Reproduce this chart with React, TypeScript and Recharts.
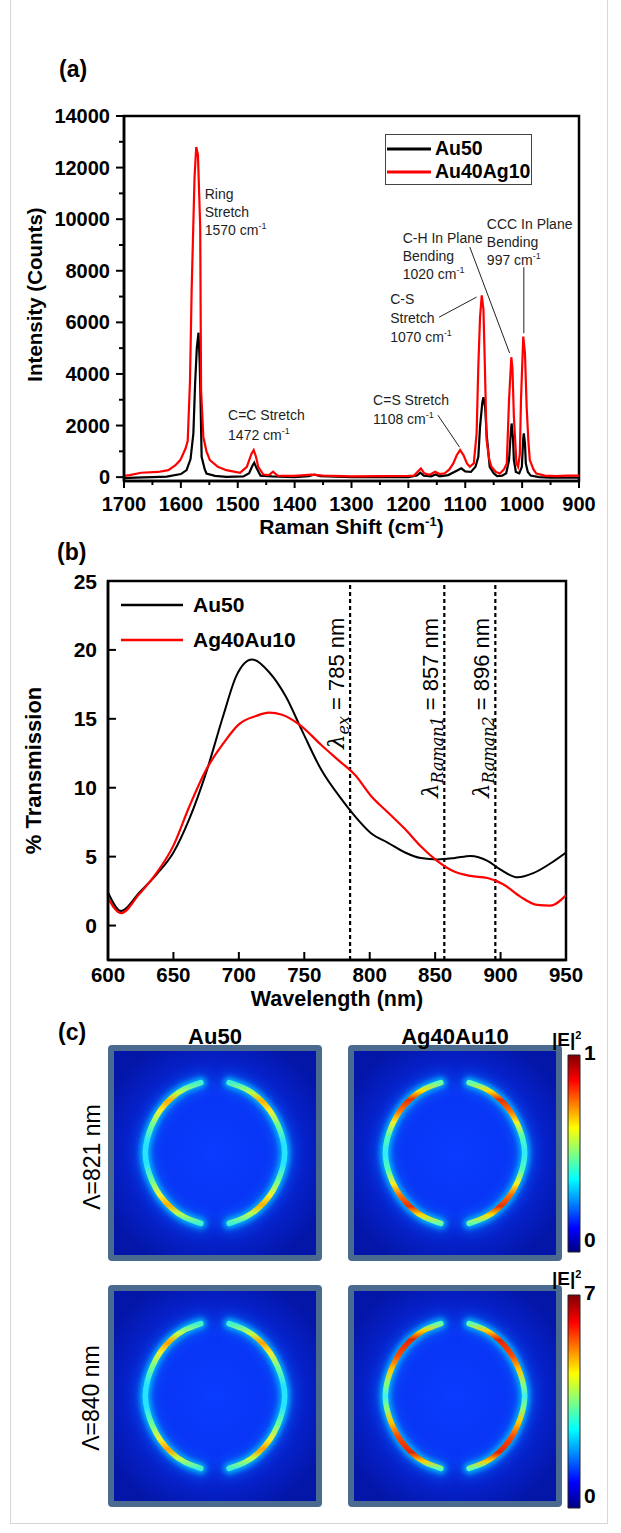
import React from 'react'
import {
  ComposedChart,
  LineChart,
  BarChart,
  Bar,
  Line,
  XAxis,
  YAxis,
  ReferenceLine,
  ReferenceDot,
  ReferenceArea,
  Legend,
} from 'recharts'

const FONT = "'Liberation Sans', Arial, Helvetica, sans-serif"
const MATH = "'DejaVu Serif', 'Liberation Serif', serif"

// ---------- (a) SERS spectra: Raman shift (cm-1) vs intensity (counts)
const au50Shift = [1700, 1680, 1650, 1625, 1600, 1590, 1583, 1578, 1575, 1572, 1569, 1567, 1566, 1563.5, 1558, 1555, 1540, 1520, 1490, 1480, 1474, 1471, 1467, 1460, 1440, 1400, 1375, 1365, 1355, 1300, 1250, 1200, 1185, 1179, 1173, 1160, 1152, 1145, 1130, 1115, 1107, 1100, 1090, 1082, 1077, 1074, 1070, 1068, 1065, 1062.5, 1057, 1050, 1044, 1035, 1028, 1023, 1020, 1018.5, 1016, 1014.5, 1011, 1005, 1000.5, 998, 997, 995, 993.5, 990, 985, 970, 950, 900]
const au50Counts = [-40, -20, 0, 20, 120, 270, 700, 1700, 3600, 5000, 5600, 4500, 3600, 790, 300, 140, 50, 10, 30, 150, 450, 560, 350, 60, 30, 0, 40, 100, 40, 0, 0, 0, 60, 170, 60, 30, 100, 30, 80, 250, 340, 220, 200, 400, 790, 1950, 2900, 3100, 2700, 1690, 400, 150, 40, 60, 150, 660, 1700, 2080, 1500, 660, 200, 150, 400, 1500, 1700, 1300, 530, 200, 60, 0, -20, -20]

const au40ag10Shift = [1700, 1690, 1670, 1640, 1622, 1610, 1601, 1592, 1588, 1584, 1581, 1576, 1573, 1570, 1566, 1564.5, 1560.5, 1555, 1549, 1535, 1520, 1496, 1484, 1476, 1472, 1468, 1464, 1455, 1445, 1438, 1430, 1400, 1370, 1350, 1300, 1250, 1200, 1190, 1182, 1178, 1172, 1165, 1160, 1153, 1145, 1136, 1128, 1121, 1115, 1109, 1103, 1097, 1092, 1085, 1080, 1077, 1074, 1071, 1068, 1065.5, 1062.5, 1058, 1054, 1046, 1039, 1032, 1027, 1023, 1019, 1017, 1014.5, 1010, 1007, 1004, 1002, 998, 995, 992, 989, 986.5, 980, 975, 960, 940, 920, 900]
const au40ag10Counts = [50, 80, 170, 200, 270, 450, 660, 1100, 1400, 3700, 7300, 11600, 12800, 12500, 9700, 3400, 1560, 1000, 660, 400, 270, 170, 400, 900, 1050, 800, 400, 100, 80, 210, 60, 50, 100, 60, 30, 40, 50, 60, 250, 340, 150, 100, 120, 210, 120, 150, 300, 530, 850, 1050, 850, 530, 400, 530, 1700, 4300, 6200, 7050, 6500, 4300, 1450, 700, 400, 200, 140, 300, 530, 3000, 4650, 4200, 2350, 530, 400, 900, 3000, 5450, 4800, 2700, 1400, 660, 300, 140, 60, 40, 60, 60]

const shiftTicks = [900, 950, 1000, 1050, 1100, 1150, 1200, 1250, 1300, 1350, 1400, 1450, 1500, 1550, 1600, 1650, 1700]
const countTicks = [0, 1000, 2000, 3000, 4000, 5000, 6000, 7000, 8000, 9000, 10000, 11000, 12000, 13000, 14000]
const ramanNames = ['Au50', 'Au40Ag10']

// peak assignments: anchor = start of first text line (data coords)
const ramanNotes = [
  { shift: 1558, counts: 10800, gap: 18, lines: ['Ring', 'Stretch', '1570 cm-1'] },
  { shift: 1517, counts: 2210, gap: 20, lines: ['C=C  Stretch', '1472 cm-1'] },
  { shift: 1262, counts: 2790, gap: 19, lines: ['C=S Stretch', '1108 cm-1'] },
  { shift: 1232, counts: 6710, gap: 19, lines: ['C-S', 'Stretch', '1070 cm-1'] },
  { shift: 1210, counts: 9070, gap: 18, lines: ['C-H In Plane', 'Bending', '1020 cm-1'] },
  { shift: 1062, counts: 9620, gap: 18, lines: ['CCC In Plane', 'Bending', '997 cm-1'] },
]
const ramanPointers = [
  [{ x: 1146, y: 6200 }, { x: 1080, y: 6980 }],
  [{ x: 1092, y: 8920 }, { x: 1022, y: 4810 }],
  [{ x: 997, y: 8140 }, { x: 997, y: 5580 }],
  [{ x: 1148, y: 2400 }, { x: 1110, y: 1160 }],
]

// ---------- (b) transmission spectra
const au50Nm = [600, 610, 624, 637, 650, 662, 675, 688, 698, 710, 723, 736, 748, 763, 779, 789, 801, 814, 827, 839, 852, 865, 877, 890, 900, 913, 925, 938, 950]
const au50Trans = [2.4, 1.05, 2.4, 3.7, 5.3, 7.7, 11.1, 15.2, 18.1, 19.3, 18.4, 16.6, 14.2, 11.3, 9.1, 7.9, 6.7, 6.0, 5.3, 4.9, 4.8, 4.9, 5.05, 4.7, 4.05, 3.5, 3.8, 4.5, 5.3]
const ag40au10Nm = [600, 610, 624, 637, 650, 662, 675, 688, 700, 713, 723, 733, 746, 763, 776, 789, 801, 814, 827, 839, 852, 865, 877, 890, 902, 915, 928, 938, 950]
const ag40au10Trans = [2.0, 0.9, 2.3, 3.8, 5.8, 8.6, 11.3, 13.2, 14.6, 15.2, 15.45, 15.3, 14.6, 13.1, 12.0, 10.9, 9.4, 8.2, 7.0, 5.75, 4.66, 3.9, 3.6, 3.45, 3.0, 2.1, 1.5, 1.45, 2.2]
const nmTicks = [600, 650, 700, 750, 800, 850, 900, 950]
const transTicks = [0, 5, 10, 15, 20, 25]
const transNames = ['Au50', 'Ag40Au10']
const lambdaMarks = [
  { nm: 785, sub: 'ex', center: 0.27 },
  { nm: 857, sub: 'Raman1', center: 0.335 },
  { nm: 896, sub: 'Raman2', center: 0.335 },
]

// ---------- (c) near-field maps, normalised coordinates of the two hot arcs
const leftArcX = [-0.14, -0.3, -0.43, -0.54, -0.62, -0.67, -0.69, -0.67, -0.62, -0.54, -0.43, -0.3, -0.14]
const rightArcX = [0.14, 0.3, 0.43, 0.54, 0.62, 0.67, 0.69, 0.67, 0.62, 0.54, 0.43, 0.3, 0.14]
const arcY = [0.69, 0.63, 0.54, 0.42, 0.28, 0.14, 0, -0.14, -0.28, -0.42, -0.54, -0.63, -0.69]

// colour along each arc, top tip -> bottom tip
const au50Arc821: [number, string][] = [[0, '#40f0d0'], [0.07, '#b8ff50'], [0.13, '#ffb000'], [0.2, '#f4f030'], [0.3, '#70ff90'], [0.42, '#28e4ff'], [0.58, '#28e4ff'], [0.7, '#70ff90'], [0.8, '#f4f030'], [0.87, '#ffb000'], [0.93, '#b8ff50'], [1, '#40f0d0']]
const ag40Arc821: [number, string][] = [[0, '#60ffb0'], [0.06, '#ffe000'], [0.12, '#e83000'], [0.2, '#ff7000'], [0.28, '#f8f020'], [0.38, '#50ffb0'], [0.5, '#30e8ff'], [0.62, '#50ffb0'], [0.72, '#f8f020'], [0.8, '#ff7000'], [0.88, '#e83000'], [0.94, '#ffe000'], [1, '#60ffb0']]
const au50Arc840: [number, string][] = [[0, '#40f0d0'], [0.07, '#c0ff48'], [0.13, '#ffa000'], [0.2, '#f0f030'], [0.3, '#70ff90'], [0.42, '#28e4ff'], [0.58, '#28e4ff'], [0.7, '#70ff90'], [0.8, '#f0f030'], [0.87, '#ffa000'], [0.93, '#c0ff48'], [1, '#40f0d0']]
const ag40Arc840: [number, string][] = [[0, '#60ffb0'], [0.05, '#ffd000'], [0.11, '#e02800'], [0.22, '#ff4800'], [0.32, '#ffc800'], [0.42, '#80ff80'], [0.5, '#40f0f0'], [0.58, '#80ff80'], [0.68, '#ffc800'], [0.78, '#ff4800'], [0.89, '#e02800'], [0.95, '#ffd000'], [1, '#60ffb0']]

const jetStops: [number, string][] = [[0, '#00007f'], [0.12, '#0000ff'], [0.37, '#00ffff'], [0.5, '#80ff80'], [0.63, '#ffff00'], [0.87, '#ff0000'], [1, '#7f0000']]

const zip = <A extends string, B extends string>(ka: A, kb: B, a: number[], b: number[]) =>
  a.map((v, i) => ({ [ka]: v, [kb]: b[i] }) as Record<A | B, number>)

const au50Raman = zip('shift', 'counts', au50Shift, au50Counts)
const au40ag10Raman = zip('shift', 'counts', au40ag10Shift, au40ag10Counts)
const au50Spectrum = zip('nm', 'pct', au50Nm, au50Trans)
const ag40au10Spectrum = zip('nm', 'pct', ag40au10Nm, ag40au10Trans)
const leftArc = zip('x', 'y', leftArcX, arcY)
const rightArc = zip('x', 'y', rightArcX, arcY)

const boldText = { fontFamily: FONT, fontWeight: 'bold' as const, fill: '#000' }

const ordered = (payload: any[] = [], names: string[]) =>
  [...payload].sort((a, b) => names.indexOf(a.value) - names.indexOf(b.value))

// ---------------- (a)
const RamanXTick = ({ x, y, payload }: any) => {
  const major = payload.value % 100 === 0
  return (
    <g>
      <line x1={x} x2={x} y1={y} y2={y + (major ? 7 : 4)} stroke="#000" strokeWidth={2} />
      {major && (
        <text x={x} y={y + 30} textAnchor="middle" fontSize={20} {...boldText}>
          {payload.value}
        </text>
      )}
    </g>
  )
}

const CountTick = ({ x, y, payload }: any) => {
  const major = payload.value % 2000 === 0
  return (
    <g>
      <line x1={x - (major ? 8 : 5)} x2={x} y1={y} y2={y} stroke="#000" strokeWidth={2} />
      {major && (
        <text x={x - 14} y={y + 7} textAnchor="end" fontSize={20} {...boldText}>
          {payload.value}
        </text>
      )}
    </g>
  )
}

const noteText = (lines: string[], gap: number) => (props: any) => {
  const { x, y } = props.viewBox
  return (
    <text x={x} y={y} fontFamily={FONT} fontSize={14} fill="#1e1e1e">
      {lines.map((line, i) => {
        const wn = line.endsWith('cm-1')
        return (
          <tspan key={i} x={x} y={y + i * gap}>
            {wn ? line.slice(0, -2) : line}
            {wn && (
              <tspan dy={-6} fontSize={9}>
                -1
              </tspan>
            )}
          </tspan>
        )
      })}
    </text>
  )
}

const RamanLegend = ({ payload }: any) => (
  <div style={{ width: 147, height: 51, boxSizing: 'border-box', border: '1.5px solid #444', background: '#fff', paddingTop: 2 }}>
    {ordered(payload, ramanNames).map((p: any) => (
      <div key={p.value} style={{ display: 'flex', alignItems: 'center', height: 23 }}>
        <svg width={48} height={6} style={{ marginLeft: 1 }}>
          <line x1={0} x2={44} y1={3} y2={3} stroke={p.color} strokeWidth={3} />
        </svg>
        <span style={{ fontFamily: FONT, fontWeight: 'bold', fontSize: 19.5, lineHeight: 1, color: '#000' }}>{p.value}</span>
      </div>
    ))}
  </div>
)

function RamanChart() {
  return (
    <LineChart width={621} height={560} margin={{ top: 116, right: 42, bottom: 19, left: 0 }}>
      <XAxis
        type="number"
        dataKey="shift"
        domain={[900, 1700]}
        reversed
        ticks={shiftTicks}
        interval={0}
        height={60}
        tickSize={0}
        tickMargin={0}
        tickLine={false}
        axisLine={{ stroke: '#000', strokeWidth: 2.5 }}
        tick={<RamanXTick />}
        allowDataOverflow
        label={(p: any) => (
          <text x={p.viewBox.x + p.viewBox.width / 2} y={p.viewBox.y + 53} textAnchor="middle" fontSize={21} {...boldText}>
            Raman Shift (cm
            <tspan dy={-8} fontSize={13}>
              -1
            </tspan>
            <tspan dy={8}>)</tspan>
          </text>
        )}
      />
      <YAxis
        type="number"
        domain={[-150, 14000]}
        ticks={countTicks}
        interval={0}
        width={124}
        tickSize={0}
        tickMargin={0}
        tickLine={false}
        axisLine={{ stroke: '#000', strokeWidth: 2.5 }}
        tick={<CountTick />}
        allowDataOverflow
        label={(p: any) => {
          const cx = 42
          const cy = p.viewBox.y + p.viewBox.height / 2 - 4
          return (
            <text x={cx} y={cy} transform={`rotate(-90 ${cx} ${cy})`} textAnchor="middle" fontSize={20.5} {...boldText}>
              Intensity (Counts)
            </text>
          )
        }}
      />
      <ReferenceArea x1={900} x2={1700} y1={-150} y2={14000} fill="none" stroke="#000" strokeWidth={2.5} ifOverflow="visible" />
      <Legend
        layout="vertical"
        align="center"
        verticalAlign="middle"
        content={<RamanLegend />}
        wrapperStyle={{ left: 385, top: 134, width: 147, height: 51 }}
      />
      <Line data={au50Raman} dataKey="counts" name="Au50" type="linear" stroke="#000" strokeWidth={2.2} dot={false} activeDot={false} isAnimationActive={false} />
      <Line data={au40ag10Raman} dataKey="counts" name="Au40Ag10" type="linear" stroke="#ff0000" strokeWidth={2.2} dot={false} activeDot={false} isAnimationActive={false} />
      {ramanPointers.map((seg, i) => (
        <ReferenceLine key={`ptr-${i}`} segment={seg} stroke="#222" strokeWidth={1} />
      ))}
      {ramanNotes.map((n, i) => (
        <ReferenceDot key={`note-${i}`} x={n.shift} y={n.counts} r={0} fill="none" stroke="none" label={noteText(n.lines, n.gap)} />
      ))}
    </LineChart>
  )
}

// ---------------- (b)
const NmTick = ({ x, y, payload }: any) => (
  <g>
    <line x1={x} x2={x} y1={y} y2={y - 8} stroke="#000" strokeWidth={2} />
    <text x={x} y={y + 22} textAnchor="middle" fontSize={20.5} {...boldText}>
      {payload.value}
    </text>
  </g>
)

const TransTick = ({ x, y, payload }: any) => (
  <g>
    <line x1={x} x2={x + 8} y1={y} y2={y} stroke="#000" strokeWidth={2} />
    <text x={x - 11} y={y + 7.5} textAnchor="end" fontSize={21} {...boldText}>
      {payload.value}
    </text>
  </g>
)

const lambdaLabel = (sub: string, nm: number, center: number) => (props: any) => {
  const { x, y, height } = props.viewBox
  const bx = x - 6
  const cy = y + height * center
  return (
    <text x={bx} y={cy} transform={`rotate(-90 ${bx} ${cy})`} textAnchor="middle" fontSize={22} fontFamily={FONT} fill="#000">
      <tspan fontFamily={MATH} fontStyle="italic" fontSize={23}>
        λ
      </tspan>
      <tspan fontFamily={MATH} fontStyle="italic" fontSize={16} dy={5}>
        {sub}
      </tspan>
      <tspan dy={-5}>{` = ${nm} nm`}</tspan>
    </text>
  )
}

const TransLegend = ({ payload }: any) => (
  <div>
    {ordered(payload, transNames).map((p: any) => (
      <div key={p.value} style={{ display: 'flex', alignItems: 'center', height: 35 }}>
        <svg width={72} height={6}>
          <line x1={0} x2={62} y1={3} y2={3} stroke={p.color} strokeWidth={2.5} />
        </svg>
        <span style={{ fontFamily: FONT, fontWeight: 'bold', fontSize: 21, lineHeight: 1, color: '#000' }}>{p.value}</span>
      </div>
    ))}
  </div>
)

function TransmissionChart() {
  return (
    <LineChart width={621} height={480} margin={{ top: 41, right: 55, bottom: 5, left: 0 }}>
      <XAxis
        type="number"
        dataKey="nm"
        domain={[600, 950]}
        ticks={nmTicks}
        interval={0}
        height={55}
        tickSize={0}
        tickMargin={0}
        tickLine={false}
        axisLine={{ stroke: '#000', strokeWidth: 2.5 }}
        tick={<NmTick />}
        allowDataOverflow
        label={(p: any) => (
          <text x={p.viewBox.x + p.viewBox.width / 2} y={p.viewBox.y + 46} textAnchor="middle" fontSize={21.5} {...boldText}>
            Wavelength (nm)
          </text>
        )}
      />
      <YAxis
        type="number"
        domain={[-2.5, 25]}
        ticks={transTicks}
        interval={0}
        width={108}
        tickSize={0}
        tickMargin={0}
        tickLine={false}
        axisLine={{ stroke: '#000', strokeWidth: 2.5 }}
        tick={<TransTick />}
        allowDataOverflow
        label={(p: any) => {
          const cx = 41
          const cy = p.viewBox.y + p.viewBox.height / 2
          return (
            <text x={cx} y={cy} transform={`rotate(-90 ${cx} ${cy})`} textAnchor="middle" fontSize={22} {...boldText}>
              % Transmission
            </text>
          )
        }}
      />
      <ReferenceArea x1={600} x2={950} y1={-2.5} y2={25} fill="none" stroke="#000" strokeWidth={2.5} ifOverflow="visible" />
      <Legend
        layout="vertical"
        align="center"
        verticalAlign="middle"
        content={<TransLegend />}
        wrapperStyle={{ left: 121, top: 47, width: 200, height: 70 }}
      />
      {lambdaMarks.map((m) => (
        <ReferenceLine key={m.nm} x={m.nm} stroke="#000" strokeWidth={2.2} strokeDasharray="4 3" label={lambdaLabel(m.sub, m.nm, m.center)} />
      ))}
      <Line data={au50Spectrum} dataKey="pct" name="Au50" type="monotone" stroke="#000" strokeWidth={2} dot={false} activeDot={false} isAnimationActive={false} />
      <Line data={ag40au10Spectrum} dataKey="pct" name="Ag40Au10" type="monotone" stroke="#ff0000" strokeWidth={2.2} dot={false} activeDot={false} isAnimationActive={false} />
    </LineChart>
  )
}

// ---------------- (c)
function FieldMap({ id, stops, width, height }: { id: string; stops: [number, string][]; width: number; height: number }) {
  const layers = [
    { key: 'halo', stroke: '#0a78ff', width: 20, opacity: 0.45, filter: `url(#halo-${id})` },
    { key: 'glow', stroke: '#00c0ff', width: 11, opacity: 0.85, filter: `url(#glow-${id})` },
    { key: 'body', stroke: `url(#arc-${id})`, width: 5.5, opacity: 1, filter: `url(#soft-${id})` },
  ]
  return (
    <ComposedChart width={width} height={height} margin={{ top: 0, right: 0, bottom: 0, left: 0 }}>
      <defs>
        <radialGradient id={`bg-${id}`} cx="50%" cy="50%" r="60%">
          <stop offset="0" stopColor="#0a3cff" />
          <stop offset="0.5" stopColor="#0834f4" />
          <stop offset="0.62" stopColor="#0626d8" />
          <stop offset="1" stopColor="#0416a8" />
        </radialGradient>
        <linearGradient id={`arc-${id}`} x1="0" y1="0" x2="0" y2="1">
          {stops.map(([o, c]) => (
            <stop key={o} offset={o} stopColor={c} />
          ))}
        </linearGradient>
        <filter id={`halo-${id}`} x="-80%" y="-30%" width="260%" height="160%">
          <feGaussianBlur stdDeviation="6" />
        </filter>
        <filter id={`glow-${id}`} x="-60%" y="-20%" width="220%" height="140%">
          <feGaussianBlur stdDeviation="2.5" />
        </filter>
        <filter id={`soft-${id}`} x="-30%" y="-10%" width="160%" height="120%">
          <feGaussianBlur stdDeviation="0.6" />
        </filter>
      </defs>
      <XAxis type="number" dataKey="x" domain={[-1, 1]} hide allowDataOverflow />
      <YAxis type="number" domain={[-1, 1]} hide allowDataOverflow />
      <ReferenceArea x1={-1} x2={1} y1={-1} y2={1} fill={`url(#bg-${id})`} fillOpacity={1} stroke="none" ifOverflow="visible" />
      {layers.flatMap((layer) =>
        [leftArc, rightArc].map((arc, i) => (
          <Line
            key={`${layer.key}-${i}`}
            data={arc}
            dataKey="y"
            type="natural"
            stroke={layer.stroke}
            strokeWidth={layer.width}
            strokeOpacity={layer.opacity}
            strokeLinecap="round"
            filter={layer.filter}
            dot={false}
            activeDot={false}
            isAnimationActive={false}
          />
        )),
      )}
    </ComposedChart>
  )
}

const BarTick = ({ x, y, payload }: any) => (
  <text x={x + 4} y={payload.value === 0 ? y - 5 : y + 5} fontSize={21} {...boldText}>
    {payload.value}
  </text>
)

function ColorBar({ id, max, height }: { id: string; max: number; height: number }) {
  const scale = [{ band: '|E|2', level: max }]
  return (
    <BarChart width={46} height={height} data={scale} margin={{ top: 22, right: 0, bottom: 2, left: 2 }} barCategoryGap={0}>
      <defs>
        <linearGradient id={`jet-${id}`} x1="0" y1="1" x2="0" y2="0">
          {jetStops.map(([o, c]) => (
            <stop key={o} offset={o} stopColor={c} />
          ))}
        </linearGradient>
      </defs>
      <XAxis dataKey="band" hide />
      <YAxis
        type="number"
        domain={[0, max]}
        ticks={[0, max]}
        interval={0}
        orientation="right"
        width={32}
        axisLine={false}
        tickLine={false}
        tickSize={0}
        tickMargin={0}
        tick={<BarTick />}
      />
      <Bar dataKey="level" fill={`url(#jet-${id})`} stroke="#222" strokeWidth={1} isAnimationActive={false} />
    </BarChart>
  )
}

const mapBox = (left: number, top: number, h: number): React.CSSProperties => ({
  position: 'absolute',
  left,
  top,
  width: 214,
  height: h,
  boxSizing: 'border-box',
  border: '6px solid #4a6a90',
  borderRadius: 4,
  overflow: 'hidden',
})

export default function App() {
  const row1 = 1045
  const row2 = 1285
  return (
    <div style={{ position: 'absolute', left: 0, top: 0, width: 621, height: 1533, background: '#fff' }}>
      <div style={{ position: 'absolute', left: 10, top: -2, width: 598, height: 1526, boxSizing: 'border-box', border: '1px solid #d6d6d6' }} />

      <div style={{ position: 'absolute', left: 0, top: 0 }}>
        <RamanChart />
      </div>
      <div style={{ position: 'absolute', left: 0, top: 540 }}>
        <TransmissionChart />
      </div>

      <div style={mapBox(108, row1, 216)}>
        <FieldMap id="au821" stops={au50Arc821} width={202} height={204} />
      </div>
      <div style={mapBox(348, row1, 216)}>
        <FieldMap id="ag821" stops={ag40Arc821} width={202} height={204} />
      </div>
      <div style={mapBox(108, row2, 222)}>
        <FieldMap id="au840" stops={au50Arc840} width={202} height={210} />
      </div>
      <div style={mapBox(348, row2, 222)}>
        <FieldMap id="ag840" stops={ag40Arc840} width={202} height={210} />
      </div>
      <div style={{ position: 'absolute', left: 566, top: 1033 }}>
        <ColorBar id="cb1" max={1} height={221} />
      </div>
      <div style={{ position: 'absolute', left: 566, top: 1273 }}>
        <ColorBar id="cb2" max={7} height={237} />
      </div>

      <svg width={621} height={1533} style={{ position: 'absolute', left: 0, top: 0, pointerEvents: 'none' }}>
        <text x={59} y={77} fontSize={23} {...boldText}>(a)</text>
        <text x={57} y={560} fontSize={23} {...boldText}>(b)</text>
        <text x={58} y={1040} fontSize={23} {...boldText}>(c)</text>
        <text x={215} y={1044} textAnchor="middle" fontSize={22} {...boldText}>Au50</text>
        <text x={455} y={1044} textAnchor="middle" fontSize={22} {...boldText}>Ag40Au10</text>
        <text x={100} y={1157} transform="rotate(-90 100 1157)" textAnchor="middle" fontSize={23} fontFamily={FONT} fill="#000">Λ=821 nm</text>
        <text x={99} y={1398} transform="rotate(-90 99 1398)" textAnchor="middle" fontSize={23} fontFamily={FONT} fill="#000">Λ=840 nm</text>
        <text x={552} y={1046} fontSize={19} {...boldText}>
          |E|<tspan dy={-7} fontSize={11}>2</tspan>
        </text>
        <text x={552} y={1285} fontSize={19} {...boldText}>
          |E|<tspan dy={-7} fontSize={11}>2</tspan>
        </text>
      </svg>
    </div>
  )
}
